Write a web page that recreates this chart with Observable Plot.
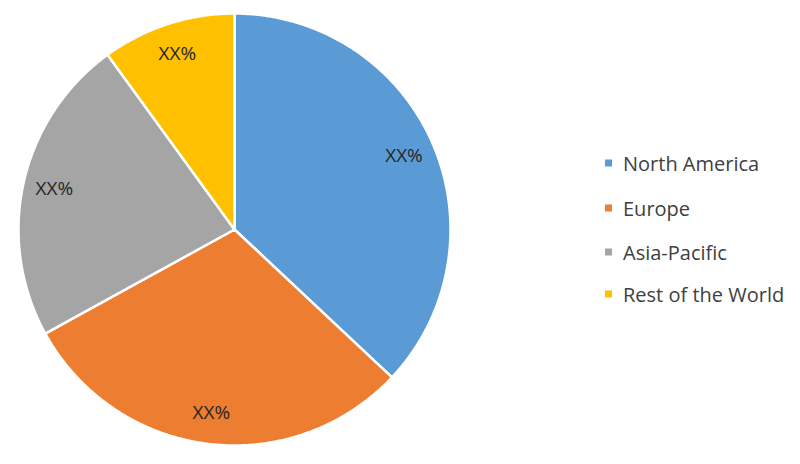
<!DOCTYPE html>
<html>
<head>
<meta charset="utf-8">
<script src="https://cdn.jsdelivr.net/npm/d3@7"></script>
<script src="https://cdn.jsdelivr.net/npm/@observablehq/plot@0.6"></script>
<style>
  html, body { margin: 0; padding: 0; background: #fff; }
  #wrap { position: relative; width: 800px; height: 464px; }
  #legend { position: absolute; left: 605px; top: 0; font-family: "Open Sans", sans-serif; font-size: 20px; color: #404040; }
  .item { position: absolute; left: 0; white-space: nowrap; display: flex; align-items: center; transform: translateY(-50%); }
  .sw { width: 7px; height: 7px; margin-right: 11px; }
</style>
</head>
<body>
<div id="wrap"><div id="legend"></div></div>
<script>
const regions = ["North America", "Europe", "Asia-Pacific", "Rest of the World"];
const shares = [37, 30, 23, 10];
const sliceLabels = ["XX%", "XX%", "XX%", "XX%"];
const colors = ["#5B9BD5", "#ED7D31", "#A5A5A5", "#FFC000"];

const table = regions.map((r, i) => ({region: r, share: shares[i], label: sliceLabels[i]}));
const arcs = d3.pie().sort(null).value(d => d.share)(table);

// polygon vertices for each slice (unit circle, angle clockwise from top)
const poly = [];
arcs.forEach(a => {
  const n = Math.max(8, Math.ceil((a.endAngle - a.startAngle) / 0.01));
  poly.push({region: a.data.region, x: 0, y: 0});
  for (let k = 0; k <= n; k++) {
    const t = a.startAngle + (a.endAngle - a.startAngle) * k / n;
    poly.push({region: a.data.region, x: Math.sin(t), y: Math.cos(t)});
  }
  poly.push({region: a.data.region, x: 0, y: 0});
});
const labelPts = arcs.map(a => {
  const m = (a.startAngle + a.endAngle) / 2;
  const r = 0.855;
  return {label: a.data.label, x: r * Math.sin(m), y: r * Math.cos(m)};
});

const chart = Plot.plot({
  width: 800,
  height: 464,
  marginLeft: 18,
  marginRight: 350,
  marginTop: 13,
  marginBottom: 19,
  x: {domain: [-1, 1], axis: null},
  y: {domain: [-1, 1], axis: null},
  color: {domain: regions, range: colors},
  style: {background: "#fff"},
  marks: [
    Plot.line(poly, {x: "x", y: "y", z: "region", fill: "region", stroke: "#fff", strokeWidth: 2.5, strokeLinejoin: "round", curve: "linear"}),
    Plot.text(labelPts, {x: "x", y: "y", text: "label", fill: "#262626", fontSize: 19, fontFamily: "Open Sans, sans-serif"})
  ]
});
document.getElementById("wrap").prepend(chart);

const legendYs = [163, 208, 252, 294];
const lg = document.getElementById("legend");
regions.forEach((r, i) => {
  const it = document.createElement("div");
  it.className = "item";
  it.style.top = legendYs[i] + "px";
  const sw = document.createElement("span");
  sw.className = "sw";
  sw.style.background = colors[i];
  const tx = document.createElement("span");
  tx.textContent = r;
  it.append(sw, tx);
  lg.append(it);
});
</script>
</body>
</html>
